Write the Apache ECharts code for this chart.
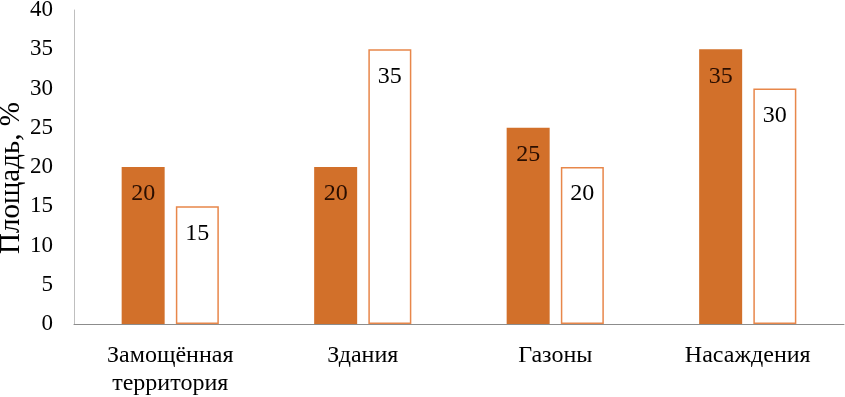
<!DOCTYPE html>
<html>
<head>
<meta charset="utf-8">
<script src="https://cdn.jsdelivr.net/npm/echarts@6/dist/echarts.min.js"></script>
<style>
  html, body { margin: 0; padding: 0; background: #fff; }
  #chart { width: 845px; height: 397px; }
</style>
</head>
<body>
<div id="chart"></div>
<script>
const categories = ['Замощённая\nтерритория', 'Здания', 'Газоны', 'Насаждения'];
const filledValues = [20, 20, 25, 35];
const outlineValues = [15, 35, 20, 30];
const yTicks = { min: 0, max: 40, interval: 5 };

const font = 'Liberation Serif';
const chart = echarts.init(document.getElementById('chart'));

chart.setOption({
  backgroundColor: '#fff',
  animation: false,
  grid: { left: 74, right: 1, top: 10, bottom: 73, outerBoundsMode: 'none' },
  xAxis: {
    type: 'category',
    data: categories,
    axisLine: { lineStyle: { color: '#8c8c8c', width: 1 } },
    axisTick: { show: false },
    axisLabel: { fontFamily: font, fontSize: 24, color: '#000', margin: 18, lineHeight: 28 }
  },
  yAxis: {
    type: 'value',
    min: yTicks.min,
    max: yTicks.max,
    interval: yTicks.interval,
    name: 'Площадь, %',
    nameLocation: 'middle',
    nameGap: 48,
    nameMoveOverlap: false,
    nameTextStyle: { fontFamily: font, fontSize: 29, color: '#000', padding: [0, 22, 0, 0] },
    axisLine: { show: true, lineStyle: { color: '#bfbfbf', width: 1 } },
    axisTick: { show: false },
    splitLine: { show: false },
    axisLabel: { fontFamily: font, fontSize: 23, color: '#000', margin: 21 }
  },
  series: [
    {
      type: 'bar',
      data: filledValues,
      barWidth: 43,
      barGap: '26%',
      itemStyle: { color: '#d2702a' },
      label: {
        show: true, position: 'insideTop', distance: 15,
        fontFamily: font, fontSize: 24, color: '#2a0e00'
      }
    },
    {
      type: 'bar',
      data: outlineValues,
      barWidth: 43,
      itemStyle: { color: '#fff', borderColor: '#e8874a', borderWidth: 1.5 },
      label: {
        show: true, position: 'insideTop', distance: 15,
        fontFamily: font, fontSize: 24, color: '#000'
      }
    }
  ]
});
</script>
</body>
</html>
